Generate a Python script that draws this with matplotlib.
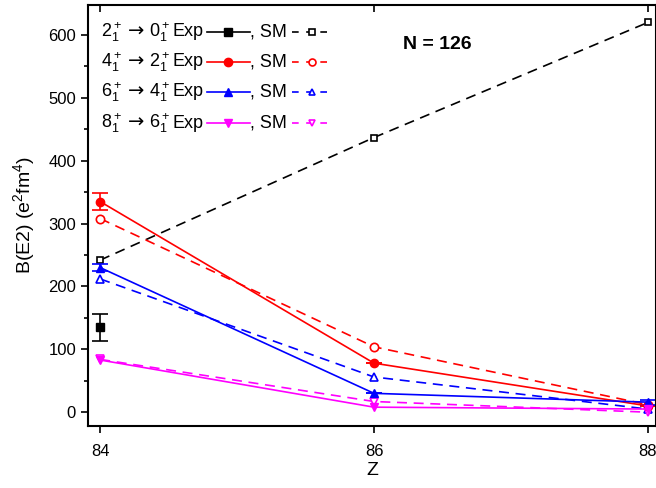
import matplotlib.pyplot as plt
from matplotlib.ticker import MultipleLocator
from matplotlib.lines import Line2D

plt.rcParams['font.family'] = ['Liberation Sans', 'DejaVu Sans']
plt.rcParams['mathtext.fontset'] = 'custom'
plt.rcParams['mathtext.rm'] = 'Liberation Sans'
plt.rcParams['mathtext.it'] = 'Liberation Sans:italic'

# data
Z = [84, 86, 88]
exp_20 = [135]
exp_20_err = [22]
sm_20 = [242, 437, 620]
exp_42 = [335, 78, 10]
exp_42_err = [14, 0, 0]
sm_42 = [308, 104, 12]
exp_64 = [230, 30, 16]
exp_64_err = [5, 0, 4]
sm_64 = [212, 56, 5]
exp_86 = [83, 8, 5]
sm_86 = [84, 17, 0]

init_states = ['2', '4', '6', '8']
final_states = ['0', '2', '4', '6']
colors = ['black', 'red', 'blue', 'magenta']
markers = ['s', 'o', '^', 'v']

W, H = 656, 488
fig = plt.figure(figsize=(W / 100, H / 100), dpi=100)
ax = fig.add_axes([0.134, 0.127, 0.866, 0.863])

lw = 1.2
ms = 5

ax.errorbar(Z[:1], exp_20, yerr=exp_20_err, color='black', marker='s', ms=6,
            lw=lw, capsize=6, elinewidth=1.2, capthick=1.2)
ax.plot(Z, sm_20, color='black', ls='--', dashes=(6, 4), marker='s', mfc='white',
        mew=1.2, ms=ms, lw=lw)

series = [
    (exp_42, exp_42_err, sm_42, 'red', 'o'),
    (exp_64, exp_64_err, sm_64, 'blue', '^'),
    (exp_86, None, sm_86, 'magenta', 'v'),
]
for ev, err, smv, c, m in series:
    ax.errorbar(Z, ev, yerr=err, color=c, marker=m, ms=ms + 1, lw=lw,
                capsize=6, elinewidth=1.2, capthick=1.2)
    ax.plot(Z, smv, color=c, ls='--', dashes=(6, 4), marker=m, mfc='white',
            mew=1.2, ms=ms + 1, lw=lw)

ax.set_xlim(83.91, 88.06)
ax.set_ylim(-22, 648)
ax.set_xticks(Z)
ax.yaxis.set_major_locator(MultipleLocator(100))
ax.yaxis.set_minor_locator(MultipleLocator(50))
ax.tick_params(axis='both', labelsize=12, width=1.2, length=5)
ax.tick_params(which='minor', width=1.2, length=3)
ax.tick_params(top=True, right=True, which='both')
ax.tick_params(axis='x', pad=8)
for t in ax.xaxis.get_major_ticks():
    t.tick2line.set_marker(3)  # inward tick on top
for t in ax.yaxis.get_major_ticks() + ax.yaxis.get_minor_ticks():
    t.tick2line.set_marker(1)  # inward tick on right
for s in ax.spines.values():
    s.set_linewidth(1.5)

ax.set_xlabel('Z', fontsize=14, labelpad=2)
ax.set_ylabel(r'B(E2) (e$^2$fm$^4$)', fontsize=14, labelpad=8)

ax.text(0.615, 0.905, 'N = 126', transform=ax.transAxes, fontsize=14,
        fontweight='bold', ha='center', va='center')

# hand-made legend, rows in pixel positions
rows_y = [32, 62, 92, 123]
for i in range(4):
    fy = 1 - rows_y[i] / H
    c = colors[i]
    m = markers[i]
    fig.text(101 / W, fy, r'$%s^+_1$' % init_states[i], fontsize=13,
             ha='left', va='center')
    fig.text(136 / W, fy + 1 / H, '→', fontsize=14, family='DejaVu Sans',
             ha='center', va='center')
    fig.text(149 / W, fy, r'$%s^+_1$' % final_states[i], fontsize=13,
             ha='left', va='center')
    fig.text(173 / W, fy, 'Exp', fontsize=13, ha='left', va='center')
    fig.add_artist(Line2D([207 / W, 250 / W], [fy, fy], color=c, lw=lw))
    fig.add_artist(Line2D([228 / W], [fy], color=c, marker=m, ms=ms + 1))
    fig.text(250 / W, fy, ', SM', fontsize=13, ha='left', va='center')
    fig.add_artist(Line2D([292 / W, 331 / W], [fy, fy], color=c, lw=lw,
                          ls='--', dashes=(4, 4.5)))
    fig.add_artist(Line2D([312 / W], [fy], color=c, marker=m, mfc='white',
                          mew=1.2, ms=ms))

fig.savefig('out.png', dpi=100)
